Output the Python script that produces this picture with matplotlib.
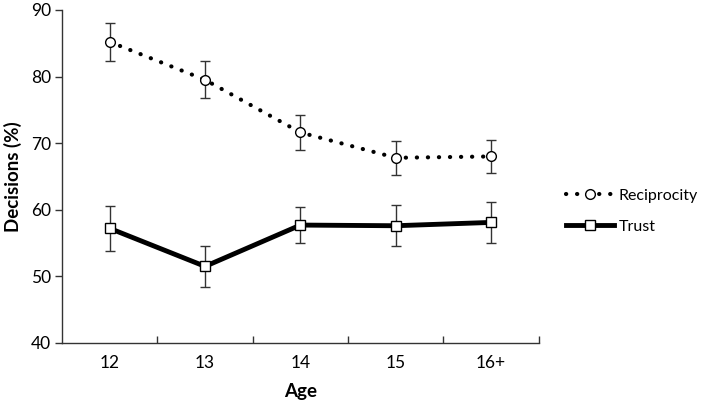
import numpy as np
import matplotlib
matplotlib.use("Agg")
import matplotlib.pyplot as plt

ages = ["12", "13", "14", "15", "16+"]
reciprocity = [85.2, 79.5, 71.6, 67.8, 68.0]
reciprocity_err = [2.9, 2.8, 2.6, 2.55, 2.45]
trust = [57.2, 51.5, 57.7, 57.6, 58.1]
trust_err = [3.4, 3.05, 2.7, 3.05, 3.1]

plt.rcParams['font.family'] = ['Lato', 'DejaVu Sans']

fig = plt.figure(figsize=(7.09, 4.12), dpi=100)
ax = fig.add_axes([0.0875, 0.1675, 0.6725, 0.8085])

x = np.arange(len(ages))

# error bars first, then lines + markers on top
ax.errorbar(x, reciprocity, yerr=reciprocity_err, fmt='none', ecolor='#333333',
            elinewidth=1, capsize=3.5, capthick=1, zorder=2)
ax.errorbar(x, trust, yerr=trust_err, fmt='none', ecolor='#333333',
            elinewidth=1, capsize=3.5, capthick=1, zorder=2)

ax.plot(x, reciprocity, color='black', lw=3, linestyle=(0, (0.05, 2.6)),
        dash_capstyle='round', marker='o', markersize=7, markerfacecolor='white',
        markeredgecolor='black', markeredgewidth=1, label='Reciprocity', zorder=3)
ax.plot(x, trust, color='black', lw=3.5, marker='s', markersize=7,
        markerfacecolor='white', markeredgecolor='black', markeredgewidth=1,
        label='Trust', zorder=3)

ax.set_xlim(-0.5, len(ages) - 0.5)
ax.set_ylim(40, 90)
ax.set_yticks(np.arange(40, 91, 10))
ax.set_xticks(x)
ax.set_xticklabels(ages)
ax.set_xticks(np.arange(0.5, len(ages), 1), minor=True)

ax.tick_params(axis='x', which='major', length=0, pad=9, labelsize=12.5)
ax.tick_params(axis='x', which='minor', direction='in', length=5, width=1, color='#333333')
ax.tick_params(axis='y', direction='out', length=5, width=1, color='#333333', labelsize=12.5, pad=3)

for s in ['top', 'right']:
    ax.spines[s].set_visible(False)
for s in ['left', 'bottom']:
    ax.spines[s].set_color('#333333')
    ax.spines[s].set_linewidth(1)

ax.set_xlabel('Age', fontweight='bold', fontsize=13.5, labelpad=8)
ax.set_ylabel('Decisions (%)', fontweight='bold', fontsize=13.5, labelpad=6)

fig.legend(loc='center left', bbox_to_anchor=(0.798, 0.487), frameon=False,
           handlelength=3.0, handletextpad=0.3, labelspacing=1.05, fontsize=11.5,
           borderaxespad=0, borderpad=0)

fig.savefig('out.png', dpi=100)
